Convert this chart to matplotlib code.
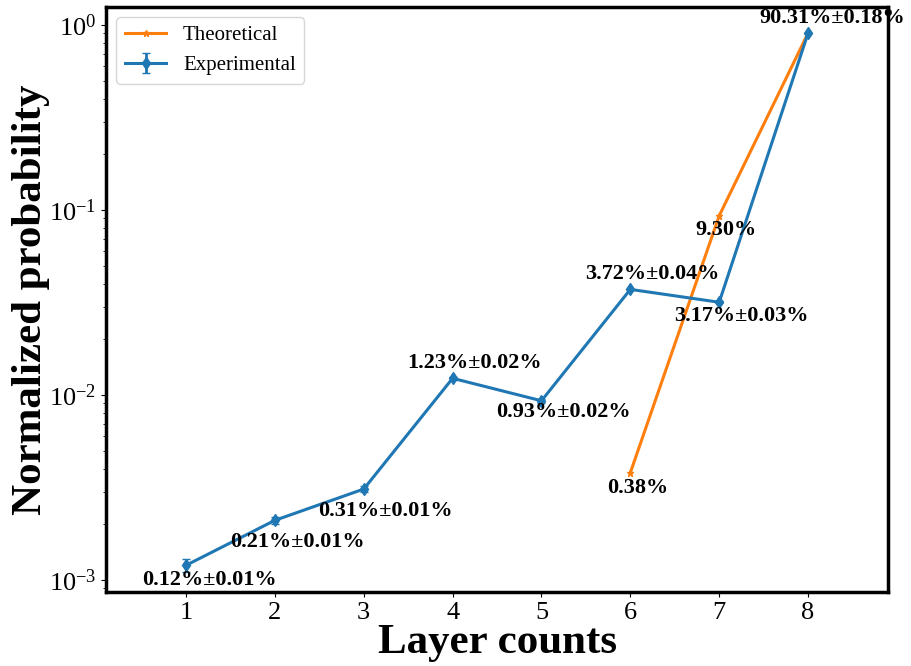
import matplotlib
matplotlib.use("Agg")
import matplotlib.pyplot as plt

plt.rcParams['font.family'] = ['Liberation Serif', 'DejaVu Serif']
plt.rcParams['mathtext.fontset'] = 'stix'

layers = [1, 2, 3, 4, 5, 6, 7, 8]
exp_vals = [0.0012, 0.0021, 0.0031, 0.0123, 0.0093, 0.0372, 0.0317, 0.9031]
exp_errs = [0.0001, 0.0001, 0.0001, 0.0002, 0.0002, 0.0004, 0.0003, 0.0018]
exp_labels = ["0.12%±0.01%", "0.21%±0.01%", "0.31%±0.01%", "1.23%±0.02%",
              "0.93%±0.02%", "3.72%±0.04%", "3.17%±0.03%", "90.31%±0.18%"]
theo_layers = [6, 7, 8]
theo_vals = [0.0038, 0.0930, 0.9032]
theo_labels = ["0.38%", "9.30%", None]

fig = plt.figure(figsize=(9.11, 6.66), dpi=100)
ax = fig.add_axes([0.1164, 0.111, 0.9748 - 0.1164, 0.9895 - 0.111])

ax.plot(theo_layers, theo_vals, color='#ff7f0e', lw=2.2, marker='*', ms=5,
        label='Theoretical')
ax.errorbar(layers, exp_vals, yerr=exp_errs, color='#1f77b4', lw=2.2,
            marker='d', ms=6, capsize=3, elinewidth=2, label='Experimental')

ax.set_yscale('log')
ax.set_xlim(0.1, 8.9)
ax.set_ylim(0.00086, 1.25)
ax.set_xticks(layers)

# offsets in pixels (dx, dy) for experimental labels
exp_off = [(23, -15), (23, -22), (22, -22), (22, 15), (22, -11), (22, 15), (22, -14), (24, 15)]
for x, y, t, (dx, dy) in zip(layers, exp_vals, exp_labels, exp_off):
    ax.annotate(t, (x, y), xytext=(dx, dy), textcoords='offset pixels',
                ha='center', va='center', fontsize=16, fontweight='bold',
                annotation_clip=False)
theo_off = [(7, -15), (7, -14)]
for x, y, t, (dx, dy) in zip(theo_layers, theo_vals, theo_labels, theo_off):
    if t:
        ax.annotate(t, (x, y), xytext=(dx, dy), textcoords='offset pixels',
                    ha='center', va='center', fontsize=16, fontweight='bold')

ax.set_xlabel('Layer counts', fontsize=31, fontweight='bold', labelpad=0)
ax.set_ylabel('Normalized probability', fontsize=31, fontweight='bold', labelpad=-1)
ax.tick_params(axis='both', which='major', labelsize=19)
for s in ax.spines.values():
    s.set_linewidth(2.5)

ax.legend(loc='upper left', fontsize=15, frameon=True)

fig.savefig('out.png', dpi=100)
